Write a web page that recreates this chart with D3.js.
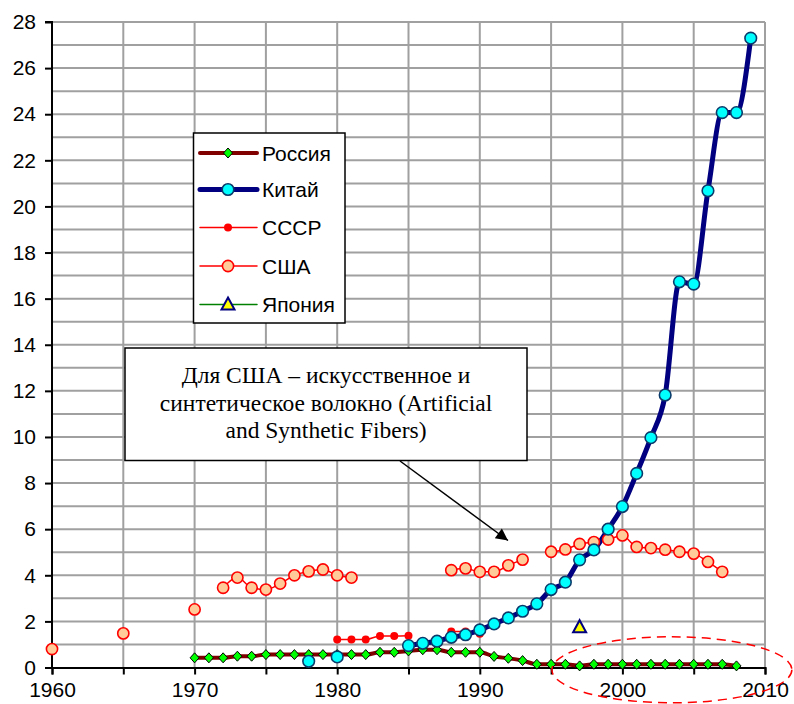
<!DOCTYPE html>
<html><head><meta charset="utf-8">
<script src="https://cdn.jsdelivr.net/npm/d3@7"></script>
<style>html,body{margin:0;padding:0;background:#fff;}svg{display:block;}</style>
</head><body><div id="chart"></div>
<script>
const xTickLabels = [1960, 1970, 1980, 1990, 2000, 2010];
const yTickLabels = [0,2,4,6,8,10,12,14,16,18,20,22,24,26,28];

const russiaYears = [1970,1971,1972,1973,1974,1975,1976,1977,1978,1979,1980,1981,1982,1983,1984,1985,1986,1987,1988,1989,1990,1991,1992,1993,1994,1995,1996,1997,1998,1999,2000,2001,2002,2003,2004,2005,2006,2007,2008];
const russiaValues = [0.42,0.42,0.42,0.49,0.49,0.56,0.56,0.56,0.56,0.56,0.56,0.56,0.56,0.66,0.66,0.72,0.77,0.77,0.66,0.66,0.66,0.48,0.40,0.30,0.14,0.14,0.14,0.07,0.14,0.14,0.14,0.14,0.14,0.14,0.14,0.14,0.14,0.14,0.07];

const chinaYears = [1978,1980,1985,1986,1987,1988,1989,1990,1991,1992,1993,1994,1995,1996,1997,1998,1999,2000,2001,2002,2003,2004,2005,2006,2007,2008,2009];
const chinaValues = [0.27,0.46,0.95,1.05,1.14,1.31,1.42,1.63,1.89,2.15,2.44,2.76,3.38,3.70,4.67,5.10,6.00,6.98,8.42,9.97,11.82,16.73,16.63,20.68,24.07,24.07,27.3];

const ussrYears = [1980,1981,1982,1983,1984,1985,1988,1989,1990];
const ussrValues = [1.21,1.21,1.21,1.37,1.37,1.38,1.56,1.56,1.46];

const usaYears = [1960,1965,1970,1972,1973,1974,1975,1976,1977,1978,1979,1980,1981,1988,1989,1990,1991,1992,1993,1995,1996,1997,1998,1999,2000,2001,2002,2003,2004,2005,2006,2007];
const usaValues = [0.80,1.48,2.52,3.46,3.90,3.46,3.38,3.64,4.00,4.17,4.25,4.00,3.90,4.22,4.30,4.15,4.15,4.43,4.68,5.02,5.12,5.36,5.44,5.55,5.73,5.23,5.18,5.11,5.02,4.94,4.58,4.15];

const japanYears = [1997];
const japanValues = [1.75];

const legendLabels = ["Россия","Китай","СССР","США","Япония"];
const noteLines = ["Для США – искусственное и","синтетическое волокно (Artificial","and Synthetic Fibers)"];

const W = 794, H = 704;
const svg = d3.select("#chart").append("svg").attr("width", W).attr("height", H);

const x = d3.scaleLinear().domain([1960, 2010]).range([52, 765]);
const y = d3.scaleLinear().domain([0, 28]).range([667.5, 22]);

// grid
const grid = svg.append("g");
grid.selectAll("line.h").data(d3.range(1, 29)).join("line")
  .attr("x1", x(1960)).attr("x2", x(2010))
  .attr("y1", d => y(d)).attr("y2", d => y(d))
  .attr("stroke", "#a0a0a0").attr("stroke-width", 2);
grid.selectAll("line.v").data(d3.range(1965, 2011, 5)).join("line")
  .attr("x1", d => x(d)).attr("x2", d => x(d))
  .attr("y1", y(0)).attr("y2", y(28))
  .attr("stroke", "#a0a0a0").attr("stroke-width", 2);

// axes
const xAxis = d3.axisBottom(x).tickValues(d3.range(1960, 2011, 5))
  .tickFormat(d => xTickLabels.includes(d) ? d : "").tickSize(7).tickPadding(8);
const gx = svg.append("g").attr("transform", `translate(0,${y(0)})`).call(xAxis);
const yAxis = d3.axisLeft(y).tickValues(yTickLabels).tickSize(7).tickPadding(9);
const gy = svg.append("g").attr("transform", `translate(${x(1960)},0)`).call(yAxis);
[gx, gy].forEach(g => {
  g.select(".domain").attr("stroke", "#000").attr("stroke-width", 2);
  g.selectAll(".tick line").attr("stroke", "#000").attr("stroke-width", 2);
  g.selectAll("text").attr("font-family", "'Liberation Sans', Arial, sans-serif")
    .attr("font-size", 21).attr("fill", "#000");
});
gy.select(".domain").attr("d", `M-7,${y(28)}H0V${y(0)}`);

// segments: connect consecutive years only
function segments(years, vals) {
  const segs = []; let cur = [];
  years.forEach((yr, i) => {
    if (cur.length && yr - cur[cur.length - 1][0] !== 1) { segs.push(cur); cur = []; }
    cur.push([yr, vals[i]]);
  });
  if (cur.length) segs.push(cur);
  return segs.filter(s => s.length > 1);
}
const line = d3.line().x(d => x(d[0])).y(d => y(d[1])).curve(d3.curveMonotoneX);

function drawLines(years, vals, color, width) {
  svg.append("g").selectAll("path").data(segments(years, vals)).join("path")
    .attr("d", line).attr("fill", "none").attr("stroke", color)
    .attr("stroke-width", width).attr("stroke-linejoin", "round").attr("stroke-linecap", "round");
}

drawLines(usaYears, usaValues, "#ff0000", 1.5);
drawLines(ussrYears, ussrValues, "#ff0000", 1.5);
drawLines(russiaYears, russiaValues, "#800000", 4);
drawLines(chinaYears, chinaValues, "#000080", 5);

const diamond = "M0,-5L4.5,0L0,5L-4.5,0Z";
const tri = "M0,-7L6.5,5L-6.5,5Z";

function usaMarker(g) { g.append("circle").attr("r", 5.6).attr("fill", "#ffcc99").attr("stroke", "#ff0000").attr("stroke-width", 1.6); }
function ussrMarker(g) { g.append("circle").attr("r", 4).attr("fill", "#ff0000"); }
function russiaMarker(g) { g.append("path").attr("d", diamond).attr("fill", "#00ff00").attr("stroke", "#000").attr("stroke-width", 1); }
function chinaMarker(g) { g.append("circle").attr("r", 5.8).attr("fill", "#00ffff").attr("stroke", "#0b3b6b").attr("stroke-width", 1.6); }
function japanMarker(g) { g.append("path").attr("d", tri).attr("fill", "#ffff00").attr("stroke", "#000080").attr("stroke-width", 2); }

function drawMarkers(years, vals, fn) {
  const g = svg.append("g");
  years.forEach((yr, i) => {
    const m = g.append("g").attr("transform", `translate(${x(yr)},${y(vals[i])})`);
    fn(m);
  });
}
drawMarkers(usaYears, usaValues, usaMarker);
drawMarkers(ussrYears, ussrValues, ussrMarker);
drawMarkers(russiaYears, russiaValues, russiaMarker);
drawMarkers(chinaYears, chinaValues, chinaMarker);
drawMarkers(japanYears, japanValues, japanMarker);

// legend
const lg = svg.append("g");
lg.append("rect").attr("x", 193.5).attr("y", 133).attr("width", 151.5).attr("height", 190)
  .attr("fill", "#fff").attr("stroke", "#000").attr("stroke-width", 1.5);
const legendItems = [
  {color: "#800000", w: 4, m: russiaMarker},
  {color: "#000080", w: 5, m: chinaMarker},
  {color: "#ff0000", w: 1.5, m: ussrMarker},
  {color: "#ff0000", w: 1.5, m: usaMarker},
  {color: "#008000", w: 1.5, m: japanMarker}
];
const legendY = [153, 189.5, 227.5, 266, 304.5];
legendItems.forEach((it, i) => {
  const yy = legendY[i];
  lg.append("line").attr("x1", 200).attr("x2", 257).attr("y1", yy).attr("y2", yy)
    .attr("stroke", it.color).attr("stroke-width", it.w).attr("stroke-linecap", "round");
  const m = lg.append("g").attr("transform", `translate(228,${yy})`);
  it.m(m);
  lg.append("text").attr("x", 262).attr("y", yy).attr("dy", "0.36em")
    .attr("font-family", "'Liberation Sans', Arial, sans-serif").attr("font-size", 21)
    .text(legendLabels[i]);
});

// annotation
const ag = svg.append("g");
ag.append("rect").attr("x", 125).attr("y", 348).attr("width", 402).attr("height", 112.5)
  .attr("fill", "#fff").attr("stroke", "#000").attr("stroke-width", 1.5);
noteLines.forEach((t, i) => {
  ag.append("text").attr("x", 326).attr("y", 375 + i * 27.5).attr("dy", "0.35em")
    .attr("text-anchor", "middle")
    .attr("font-family", "'Liberation Serif', 'Times New Roman', serif").attr("font-size", 23.5)
    .text(t);
});
svg.append("defs").append("marker").attr("id", "arr").attr("viewBox", "0 0 10 10")
  .attr("refX", 10).attr("refY", 5).attr("markerWidth", 15).attr("markerHeight", 12)
  .attr("markerUnits", "userSpaceOnUse").attr("orient", "auto")
  .append("path").attr("d", "M0,0L10,5L0,10Z").attr("fill", "#000");
ag.append("line").attr("x1", 400).attr("y1", 461).attr("x2", 508).attr("y2", 540.5)
  .attr("stroke", "#000").attr("stroke-width", 1.5).attr("marker-end", "url(#arr)");

// dashed ellipse
svg.append("ellipse").attr("cx", x(2003.47)).attr("cy", y(-0.1))
  .attr("rx", 120).attr("ry", 33)
  .attr("fill", "none").attr("stroke", "#ff0000").attr("stroke-width", 1.5)
  .attr("stroke-dasharray", "9,6");
</script></body></html>
